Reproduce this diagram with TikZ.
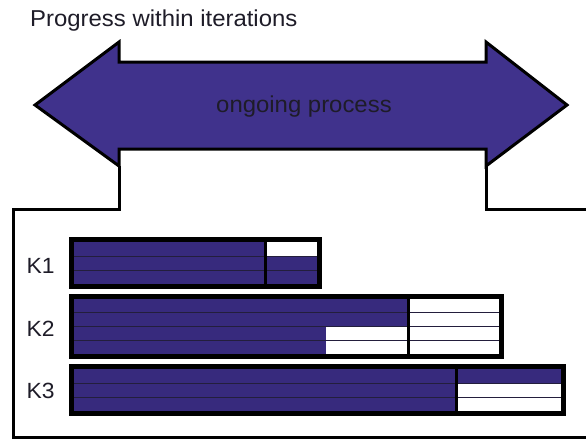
\documentclass[tikz,border=0pt]{standalone}
\usepackage{fontspec}
\setmainfont{Liberation Sans}
\newfontfamily\lblfont[FakeStretch=1.04]{Liberation Sans}
\definecolor{arrowfill}{RGB}{64,50,140}
\definecolor{barfill}{RGB}{55,42,125}
\definecolor{rowline}{RGB}{35,30,60}
\definecolor{inktext}{RGB}{30,28,40}
\tikzset{
  lbl/.style={inner sep=0pt, text=inktext, font=\lblfont\fontsize{23}{27}\selectfont},
  klbl/.style={inner sep=0pt, text=inktext, font=\lblfont\fontsize{22}{26}\selectfont},
  outline/.style={line width=3pt, line join=miter},
  frame/.style={line width=5pt, draw=black},
  split/.style={line width=3pt, draw=black},
  rowsep/.style={line width=1pt, draw=rowline},
}
\begin{document}
\begin{tikzpicture}[x=1pt,y=-1pt]
\path[use as bounding box] (0,0) rectangle (586,440);

% title
\node[lbl, anchor=base west] (title) at (30,26.5) {Progress within iterations};

% double-headed process arrow
\draw[outline, fill=arrowfill]
  (35,105) -- (119,42) -- (119,62) -- (486,62) -- (486,42) -- (567,105)
  -- (486,166) -- (486,149) -- (119,149) -- (119,166) -- cycle;
\node[lbl, anchor=base] (proc) at (304,112.3) {ongoing process};

% frame hanging below the arrow
\draw[outline] (119,166) -- (119,209) -- (13,209) -- (13,437) -- (590,437);
\draw[outline] (486,166) -- (486,209) -- (590,209);

% ---- K1 ----
\fill[barfill] (74,242) rectangle (317,284);
\fill[white] (265,242) rectangle (317,256);
\foreach \y in {256,270} \draw[rowsep] (74,\y) -- (317,\y);
\draw[split] (265,242) -- (265,284);
\draw[frame] (71.5,239.5) rectangle (319.5,286.5);
\node[klbl] (k1) at (40.5,266) {K1};

% ---- K2 ----
\fill[barfill] (74,299) rectangle (499,354);
\fill[white] (408,299) rectangle (499,354);
\fill[white] (326,326.5) rectangle (408,354);
\foreach \y in {312.75,326.5,340.25} \draw[rowsep] (74,\y) -- (499,\y);
\draw[split] (408,299) -- (408,354);
\draw[frame] (71.5,296.5) rectangle (501.5,356.5);
\node[klbl] (k2) at (40.5,328.5) {K2};

% ---- K3 ----
\fill[barfill] (74,369) rectangle (561,411);
\fill[white] (456,383) rectangle (561,411);
\foreach \y in {383,397} \draw[rowsep] (74,\y) -- (561,\y);
\draw[split] (456,369) -- (456,411);
\draw[frame] (71.5,366.5) rectangle (563.5,413.5);
\node[klbl] (k3) at (40.5,391) {K3};
\end{tikzpicture}
\end{document}
